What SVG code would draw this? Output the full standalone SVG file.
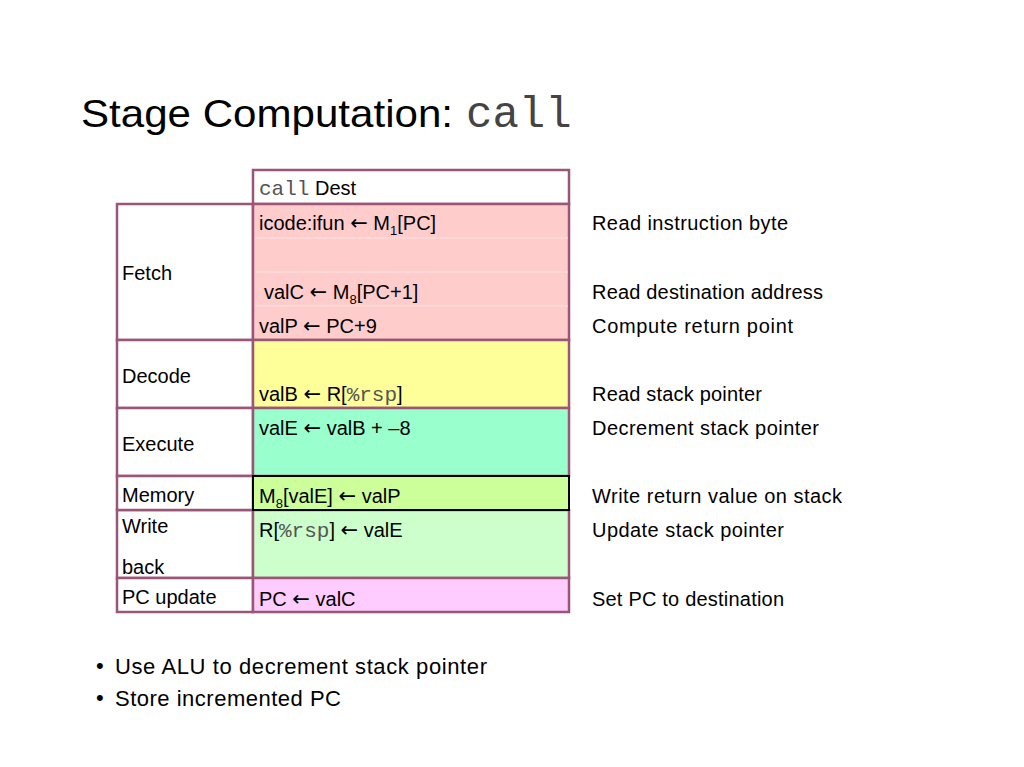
<svg xmlns="http://www.w3.org/2000/svg" width="1024" height="767" viewBox="0 0 1024 767">
<style>
.t{font-family:"Liberation Sans",Arial,sans-serif;font-size:20px;fill:#000}
.m{font-family:"Liberation Mono","Courier New",monospace;font-size:21px;fill:#555}
.a{font-family:"DejaVu Sans",sans-serif;font-size:21px}
.sub{font-size:13px}
.cell{stroke:#9A5577;stroke-width:2.5}
.lab{fill:#fff}
.sep{stroke:#FFE2E2;stroke-width:1}
</style>
<rect width="1024" height="767" fill="#fff"/>
<g id="title">
<text x="81" y="127" font-family="Liberation Sans,Arial,sans-serif" font-size="39" textLength="372" lengthAdjust="spacingAndGlyphs">Stage Computation:</text>
<text x="466" y="127" font-family="Liberation Mono,Courier New,monospace" font-size="44" fill="#444">call</text>
</g>
<g id="header">
<rect class="cell" x="253" y="170" width="316" height="34" fill="#fff"/>
<text x="259" y="195"><tspan class="m">call</tspan><tspan class="t"> Dest</tspan></text>
</g>
<g id="fetch">
<rect class="cell lab" x="117" y="204" width="136" height="136"/>
<rect class="cell" x="253" y="204" width="316" height="136" fill="#FFCCCC"/>
<line class="sep" x1="255" y1="238" x2="568" y2="238"/>
<line class="sep" x1="255" y1="272" x2="568" y2="272"/>
<line class="sep" x1="255" y1="306" x2="568" y2="306"/>
<text class="t" x="122" y="280">Fetch</text>
<text class="t" x="259" y="230">icode:ifun <tspan class="a">←</tspan> M<tspan class="sub" dy="5">1</tspan><tspan dy="-5">[PC]</tspan></text>
<text class="t" x="264" y="299">valC <tspan class="a">←</tspan> M<tspan class="sub" dy="5">8</tspan><tspan dy="-5">[PC+1]</tspan></text>
<text class="t" x="259" y="333">valP <tspan class="a">←</tspan> PC+9</text>
</g>
<g id="decode">
<rect class="cell lab" x="117" y="340" width="136" height="68"/>
<rect class="cell" x="253" y="340" width="316" height="68" fill="#FFFF99"/>
<text class="t" x="122" y="383">Decode</text>
<text class="t" x="259" y="401">valB <tspan class="a">←</tspan> R[<tspan class="m">%rsp</tspan>]</text>
</g>
<g id="execute">
<rect class="cell lab" x="117" y="408" width="136" height="68"/>
<rect class="cell" x="253" y="408" width="316" height="68" fill="#99FFCC"/>
<text class="t" x="122" y="451">Execute</text>
<text class="t" x="259" y="435">valE <tspan class="a">←</tspan> valB + –8</text>
</g>
<g id="writeback">
<rect class="cell lab" x="117" y="510" width="136" height="68"/>
<rect class="cell" x="253" y="510" width="316" height="68" fill="#CCFFCC"/>
<text class="t" x="122" y="533">Write</text>
<text class="t" x="122" y="574">back</text>
<text class="t" x="259" y="537">R[<tspan class="m">%rsp</tspan>] <tspan class="a">←</tspan> valE</text>
</g>
<g id="memory">
<rect class="cell lab" x="117" y="476" width="136" height="34"/>
<rect x="253" y="476" width="316" height="34" fill="#CCFF99" stroke="#000" stroke-width="2"/>
<text class="t" x="122" y="502">Memory</text>
<text class="t" x="259" y="503">M<tspan class="sub" dy="5">8</tspan><tspan dy="-5">[valE] </tspan><tspan class="a">←</tspan> valP</text>
</g>
<g id="pcupdate">
<rect class="cell lab" x="117" y="578" width="136" height="34"/>
<rect class="cell" x="253" y="578" width="316" height="34" fill="#FFCCFF"/>
<text class="t" x="122" y="604">PC update</text>
<text class="t" x="259" y="606">PC <tspan class="a">←</tspan> valC</text>
</g>
<g id="comments">
<text class="t" x="592" y="230" textLength="196">Read instruction byte</text>
<text class="t" x="592" y="299" textLength="231">Read destination address</text>
<text class="t" x="592" y="333" textLength="201">Compute return point</text>
<text class="t" x="592" y="401" textLength="170">Read stack pointer</text>
<text class="t" x="592" y="435" textLength="227">Decrement stack pointer</text>
<text class="t" x="592" y="503" textLength="250">Write return value on stack</text>
<text class="t" x="592" y="537" textLength="192">Update stack pointer</text>
<text class="t" x="592" y="606" textLength="192">Set PC to destination</text>
</g>
<g id="bullets" font-family="Liberation Sans,Arial,sans-serif" font-size="22">
<text x="96" y="673">•</text>
<text x="115" y="674" textLength="372">Use ALU to decrement stack pointer</text>
<text x="96" y="705">•</text>
<text x="115" y="706" textLength="226">Store incremented PC</text>
</g>
</svg>
